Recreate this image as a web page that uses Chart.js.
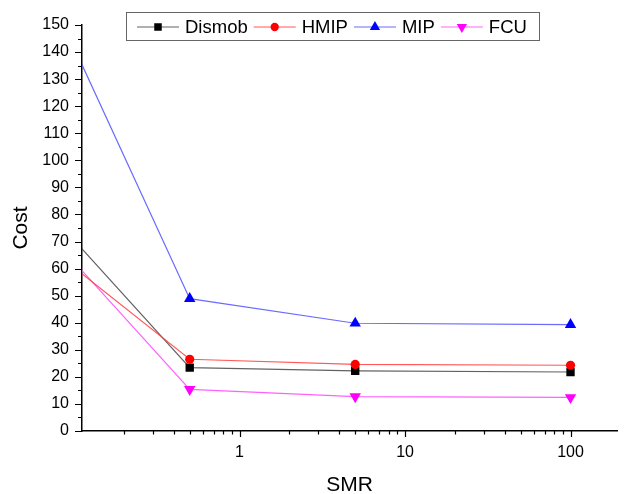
<!DOCTYPE html>
<html>
<head>
<meta charset="utf-8">
<script src="https://cdn.jsdelivr.net/npm/chart.js@4"></script>
<style>
  html, body { margin: 0; padding: 0; background: #fff; }
</style>
</head>
<body>
<canvas id="chart" width="624" height="494"></canvas>
<script>
// values
const smr = [0.1, 0.5, 5, 100];
const dismob = [70.5, 23.4, 22.2, 21.8];
const hmip = [60.4, 26.5, 24.6, 24.3];
const mip = [141.7, 48.9, 39.8, 39.3];
const fcu = [62.5, 15.4, 12.7, 12.4];
const seriesNames = ['Dismob', 'HMIP', 'MIP', 'FCU'];
const xTickLabels = [1, 10, 100];
const yMin = 0, yMax = 150, yStep = 10;

const FONT = "'Liberation Sans', Arial, sans-serif";
Chart.defaults.font.family = FONT;
Chart.defaults.color = '#000';

const styles = [
    { line: 'rgba(70,70,70,0.85)', fill: '#000', shape: 'rect', r: 5.9, rot: 0 },
    { line: 'rgba(255,60,60,0.85)', fill: '#f00', shape: 'circle', r: 4.6, rot: 0 },
    { line: 'rgba(80,80,255,0.85)', fill: '#00f', shape: 'triangle', r: 6.6, rot: 0 },
    { line: 'rgba(255,80,255,0.9)', fill: '#f0f', shape: 'triangle', r: 6.6, rot: 180 }
];
const allValues = [dismob, hmip, mip, fcu];

const datasets = allValues.map((vals, i) => ({
    label: seriesNames[i],
    data: smr.map((x, j) => ({ x: x, y: vals[j] })),
    borderColor: styles[i].line,
    borderWidth: 1.2,
    pointStyle: styles[i].shape,
    pointRotation: styles[i].rot,
    pointRadius: styles[i].r,
    pointBackgroundColor: styles[i].fill,
    pointBorderColor: styles[i].fill,
    pointBorderWidth: 0,
    tension: 0,
    clip: 0,
    order: i === 1 ? 0 : 1
}));

function isPow10(v) {
    const l = Math.log10(v);
    return Math.abs(l - Math.round(l)) < 1e-9;
}
function isWholeStep(v) {
    const e = Math.pow(10, Math.floor(Math.log10(v)));
    return Math.abs(v / e - Math.round(v / e)) < 1e-6;
}

// draw tick marks: long for major, short for minor
const tickMarks = {
    id: 'tickMarks',
    afterDraw(chart) {
        const ctx = chart.ctx;
        const xs = chart.scales.x, ys = chart.scales.y;
        const area = chart.chartArea;
        ctx.save();
        ctx.strokeStyle = '#000';
        ctx.lineWidth = 1.2;
        ctx.beginPath();
        ys.ticks.forEach(t => {
            const p = Math.round(ys.getPixelForValue(t.value)) + 0.5;
            const len = t.value % yStep === 0 ? 7 : 4;
            ctx.moveTo(area.left - len, p);
            ctx.lineTo(area.left, p);
        });
        xs.ticks.forEach(t => {
            if (!isWholeStep(t.value)) return;
            const p = Math.round(xs.getPixelForValue(t.value)) + 0.5;
            if (p < area.left || p > area.right) return;
            const len = isPow10(t.value) ? 6 : 3.5;
            ctx.moveTo(p, area.bottom);
            ctx.lineTo(p, area.bottom + len);
        });
        ctx.stroke();
        ctx.restore();
    }
};

function drawMarker(ctx, s, x, y, r) {
    ctx.fillStyle = s.fill;
    ctx.beginPath();
    if (s.shape === 'rect') {
        const h = r * Math.SQRT1_2;
        ctx.rect(x - h, y - h, 2 * h, 2 * h);
    } else if (s.shape === 'circle') {
        ctx.arc(x, y, r, 0, Math.PI * 2);
    } else {
        let a = s.rot * Math.PI / 180;
        ctx.moveTo(x + Math.sin(a) * r, y - Math.cos(a) * r);
        for (let k = 0; k < 2; k++) {
            a += Math.PI * 2 / 3;
            ctx.lineTo(x + Math.sin(a) * r, y - Math.cos(a) * r);
        }
        ctx.closePath();
    }
    ctx.fill();
}

// Origin-style legend box with line + marker samples
const boxLegend = {
    id: 'boxLegend',
    afterDraw(chart) {
        const ctx = chart.ctx;
        ctx.save();
        ctx.strokeStyle = '#666';
        ctx.lineWidth = 1;
        ctx.strokeRect(126.5, 12.5, 413, 28);
        ctx.font = '18.5px ' + FONT;
        ctx.textBaseline = 'middle';
        const cy = 27;
        let x = 137;
        seriesNames.forEach((name, i) => {
            const s = styles[i];
            ctx.strokeStyle = s.line;
            ctx.lineWidth = 1.2;
            ctx.beginPath();
            ctx.moveTo(x, cy);
            ctx.lineTo(x + 42, cy);
            ctx.stroke();
            drawMarker(ctx, s, x + 21, cy, s.r * 0.9);
            ctx.fillStyle = '#000';
            ctx.fillText(name, x + 48, cy + 1);
            x += 48 + ctx.measureText(name).width + 6;
        });
        ctx.restore();
    }
};

const ctx = document.getElementById('chart').getContext('2d');
new Chart(ctx, {
    type: 'line',
    data: { datasets: datasets },
    plugins: [tickMarks, boxLegend],
    options: {
        responsive: false,
        animation: false,
        devicePixelRatio: 1,
        layout: { padding: { top: 25, right: 1, left: 0, bottom: 0 } },
        plugins: {
            legend: { display: false },
            tooltip: { enabled: false }
        },
        scales: {
            x: {
                type: 'logarithmic',
                min: 0.1117,
                max: 192,
                afterFit: s => { s.height = 63; },
                border: { color: '#000', width: 1.5 },
                grid: { drawOnChartArea: false, tickLength: 6, tickColor: 'transparent' },
                ticks: {
                    autoSkip: false,
                    maxRotation: 0,
                    padding: 6,
                    font: { size: 16 },
                    color: '#000',
                    callback: v => (xTickLabels.includes(v) ? String(v) : '')
                },
                title: {
                    display: true,
                    text: 'SMR',
                    font: { size: 21, lineHeight: 0.85 },
                    color: '#000',
                    padding: { top: 0, bottom: 0 }
                }
            },
            y: {
                min: yMin,
                max: yMax,
                afterFit: s => { s.width = 82; },
                border: { color: '#000', width: 1.5 },
                grid: { drawOnChartArea: false, tickLength: 7, tickColor: 'transparent' },
                ticks: {
                    stepSize: yStep / 2,
                    autoSkip: false,
                    padding: 6,
                    font: { size: 16 },
                    color: '#000',
                    callback: v => (v % yStep === 0 ? String(v) : '')
                },
                title: {
                    display: true,
                    text: 'Cost',
                    font: { size: 21 },
                    color: '#000',
                    padding: { top: 9, bottom: 0 }
                }
            }
        }
    }
});
</script>
</body>
</html>
